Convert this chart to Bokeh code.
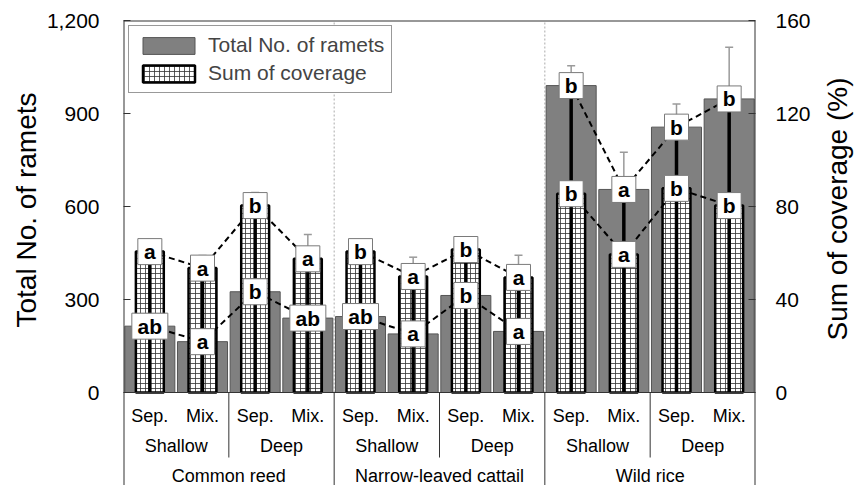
import math
from bokeh.plotting import figure
from bokeh.models import (Range1d, LinearAxis, FixedTicker, NumeralTickFormatter,
                          Whisker, TeeHead, Legend, LegendItem, ColumnDataSource, Title)
from bokeh.layouts import row
from bokeh.core.properties import value
from bokeh.embed import file_html
from bokeh.resources import INLINE

# ---------------- data ----------------
species = ["Common reed", "Narrow-leaved cattail", "Wild rice"]
depths = ["Shallow", "Deep"]
plantings = ["Sep.", "Mix."]

ramets = [214, 164, 325, 240, 245, 189, 313, 197, 990, 655, 856, 947]
ramets_se = [20, 15, 40, 30, 25, 20, 35, 20, 64, 120, 75, 167]
coverage = [60.6, 53.5, 80.4, 57.5, 60.6, 49.9, 61.5, 49.5, 85.5, 59.4, 87.8, 80.4]
coverage_se = [5.2, 5.4, 5.6, 10.5, 4.0, 8.3, 4.0, 9.5, 5.0, 6.0, 5.0, 6.0]
ramet_letters = ["ab", "a", "b", "ab", "ab", "a", "b", "a", "b", "a", "b", "b"]
coverage_letters = ["a", "a", "b", "a", "b", "a", "b", "a", "b", "a", "b", "b"]

ramet_ticks = [0, 300, 600, 900, 1200]
coverage_ticks = [0, 40, 80, 120, 160]
y_title_left = "Total No. of ramets"
y_title_right = "Sum of coverage (%)"

# ---------------- layout constants (pixels) ----------------
FONT = "Liberation Sans"
W, H = 856, 485
LEFT, RIGHT, TOP = 123, 99, 20
PLOT_H = 372                 # height of the bar area
TABLE_H = H - TOP - PLOT_H   # category table below the bars
LW, RW = 42, 43              # side strips holding the axis titles

n = len(ramets)
per_sp = len(depths) * len(plantings)
xs = [i + 0.5 for i in range(n)]
rmax, cmax = ramet_ticks[-1], coverage_ticks[-1]
ratio = rmax / cmax
y_lo = -rmax * TABLE_H / PLOT_H
c_lo = -cmax * TABLE_H / PLOT_H


def px_y(py):
    return (TOP + PLOT_H - py) * rmax / PLOT_H


src = ColumnDataSource(dict(
    x=xs,
    ramets=ramets,
    r_up=[r + e for r, e in zip(ramets, ramets_se)],
    cov=coverage,
    c_up=[c + e for c, e in zip(coverage, coverage_se)],
    peak=[max(r, c * ratio) for r, c in zip(ramets, coverage)],
    rl=ramet_letters,
    cl=coverage_letters,
    rbw=[12 + 12 * len(s) for s in ramet_letters],
    cbw=[12 + 12 * len(s) for s in coverage_letters],
))

p = figure(width=W - LW - RW, height=H, x_range=Range1d(0, n), y_range=Range1d(y_lo, rmax),
           output_backend="svg", toolbar_location=None,
           x_axis_location=None, y_axis_location=None,
           min_border_left=LEFT - LW, min_border_right=RIGHT - RW,
           min_border_top=TOP, min_border_bottom=0,
           outline_line_color=None,
           background_fill_color="white", border_fill_color="white")
p.grid.visible = False
p.extra_y_ranges = {"cov": Range1d(c_lo, cmax)}

ly = LinearAxis(ticker=FixedTicker(ticks=ramet_ticks), bounds=(0, rmax),
                formatter=NumeralTickFormatter(format="0,0"))
ry = LinearAxis(y_range_name="cov", ticker=FixedTicker(ticks=coverage_ticks), bounds=(0, cmax))
for ax, stand in ((ly, 24), (ry, 20)):
    ax.major_tick_in = 7
    ax.major_tick_out = 0
    ax.major_tick_line_color = "#333333"
    ax.minor_tick_line_color = None
    ax.axis_line_color = None
    ax.major_label_standoff = stand
    ax.major_label_text_font = FONT
    ax.major_label_text_font_size = "21px"
    ax.major_label_text_color = "black"
p.add_layout(ly, "left")
p.add_layout(ry, "right")

# dotted species separators inside plot
seps = [per_sp * k for k in range(1, len(species))]
p.segment(x0=seps, y0=[0] * len(seps), x1=seps, y1=[rmax] * len(seps),
          line_color="#aaaaaa", line_width=1, line_dash="2 2")

# error bars (underlay)
p.add_layout(Whisker(source=src, base="x", lower="ramets", upper="r_up",
                     line_color="#9a9a9a", line_width=1.5, level="underlay",
                     upper_head=TeeHead(size=8, line_color="#9a9a9a", line_width=1.5),
                     lower_head=None))
p.add_layout(Whisker(source=src, base="x", lower="cov", upper="c_up", y_range_name="cov",
                     line_color="#9a9a9a", line_width=1.5, level="underlay",
                     upper_head=TeeHead(size=8, line_color="#9a9a9a", line_width=1.5),
                     lower_head=None))

gray = p.vbar(x="x", top="ramets", bottom=0, width=0.95, source=src,
              fill_color="#808080", line_color="#555555", line_width=1)
hatch = p.vbar(x="x", top="cov", bottom=0, width=0.53, source=src, y_range_name="cov",
               fill_color="white", line_color="black", line_width=2.5,
               hatch_pattern="cross", hatch_scale=5, hatch_color="#333333", hatch_weight=0.8)
p.segment(x0="x", y0=0, x1="x", y1="peak", source=src, line_color="black", line_width=3.5)

# dashed connecting lines per species
for k in range(len(species)):
    sl = slice(k * per_sp, (k + 1) * per_sp)
    p.line(xs[sl], ramets[sl], line_color="black", line_width=2, line_dash="6 4")
    p.line(xs[sl], coverage[sl], y_range_name="cov", line_color="black", line_width=2, line_dash="6 4")

# letter labels
p.rect(x="x", y="ramets", width="rbw", height=26, width_units="screen", height_units="screen",
       source=src, fill_color="white", line_color="#7a7a7a", line_width=1)
p.rect(x="x", y="cov", width="cbw", height=26, width_units="screen", height_units="screen",
       source=src, y_range_name="cov", fill_color="white", line_color="#7a7a7a", line_width=1)
p.text(x="x", y="ramets", text="rl", source=src, text_font=value(FONT), text_font_style="bold",
       text_font_size="21px", text_align="center", text_baseline="middle", text_color="black")
p.text(x="x", y="cov", text="cl", source=src, y_range_name="cov", text_font=value(FONT),
       text_font_style="bold", text_font_size="21px", text_align="center",
       text_baseline="middle", text_color="black")

# plot box and category table lines
BOX = "#333333"
p.segment(x0=[0], y0=[rmax], x1=[n], y1=[rmax], line_color=BOX, line_width=2)
p.segment(x0=[0, n], y0=[y_lo, y_lo], x1=[0, n], y1=[rmax, rmax], line_color=BOX, line_width=2)
p.segment(x0=[0], y0=[0], x1=[n], y1=[0], line_color=BOX, line_width=1)
p.segment(x0=seps, y0=[y_lo] * len(seps), x1=seps, y1=[0] * len(seps), line_color=BOX, line_width=1)
subs = [len(plantings) * j for j in range(1, n // len(plantings)) if (len(plantings) * j) % per_sp != 0]
p.segment(x0=subs, y0=[px_y(457)] * len(subs), x1=subs, y1=[0] * len(subs),
          line_color=BOX, line_width=1)

txt = dict(text_font=value(FONT), text_font_size="18px", text_align="center",
           text_baseline="middle", text_color="black")
p.text(x=xs, y=[px_y(415)] * n, text=[plantings[i % len(plantings)] for i in range(n)], **txt)
ng = n // len(plantings)
p.text(x=[len(plantings) * j + len(plantings) / 2 for j in range(ng)], y=[px_y(445)] * ng,
       text=[depths[j % len(depths)] for j in range(ng)], **txt)
p.text(x=[per_sp * k + per_sp / 2 for k in range(len(species))], y=[px_y(475)] * len(species),
       text=species, **txt)

legend = Legend(items=[LegendItem(label="Total No. of ramets", renderers=[gray]),
                       LegendItem(label="Sum of coverage", renderers=[hatch])],
                location="top_left", margin=5, padding=7, spacing=4,
                glyph_width=65, glyph_height=21, label_standoff=7,
                label_text_font=FONT, label_text_font_size="21px",
                border_line_color="#333333", border_line_width=1,
                background_fill_color="white", background_fill_alpha=1.0)
p.add_layout(legend)


# ---------------- side strips holding the axis titles (read bottom-to-top) ----------------
def title_strip(width, text, start_y, inset):
    f = figure(width=width, height=H, x_range=Range1d(0, 1), y_range=Range1d(0, 1),
               output_backend="svg", toolbar_location=None,
               x_axis_location=None, y_axis_location=None,
               min_border_left=width - inset, min_border_right=0,
               min_border_top=TOP, min_border_bottom=0,
               outline_line_color=None, background_fill_color="white", border_fill_color="white")
    f.grid.visible = False
    f.add_layout(Title(text=text, align="left", vertical_align="bottom", offset=H - start_y,
                       standoff=0, text_font=FONT, text_font_size="28px",
                       text_font_style="normal", text_color="black"), "left")
    return f


lf = title_strip(LW, y_title_left, 327, 1)
rf = title_strip(RW, y_title_right, 340, 4)

layout = row(lf, p, rf, spacing=0)
open("out.html", "w").write(file_html(layout, INLINE))
